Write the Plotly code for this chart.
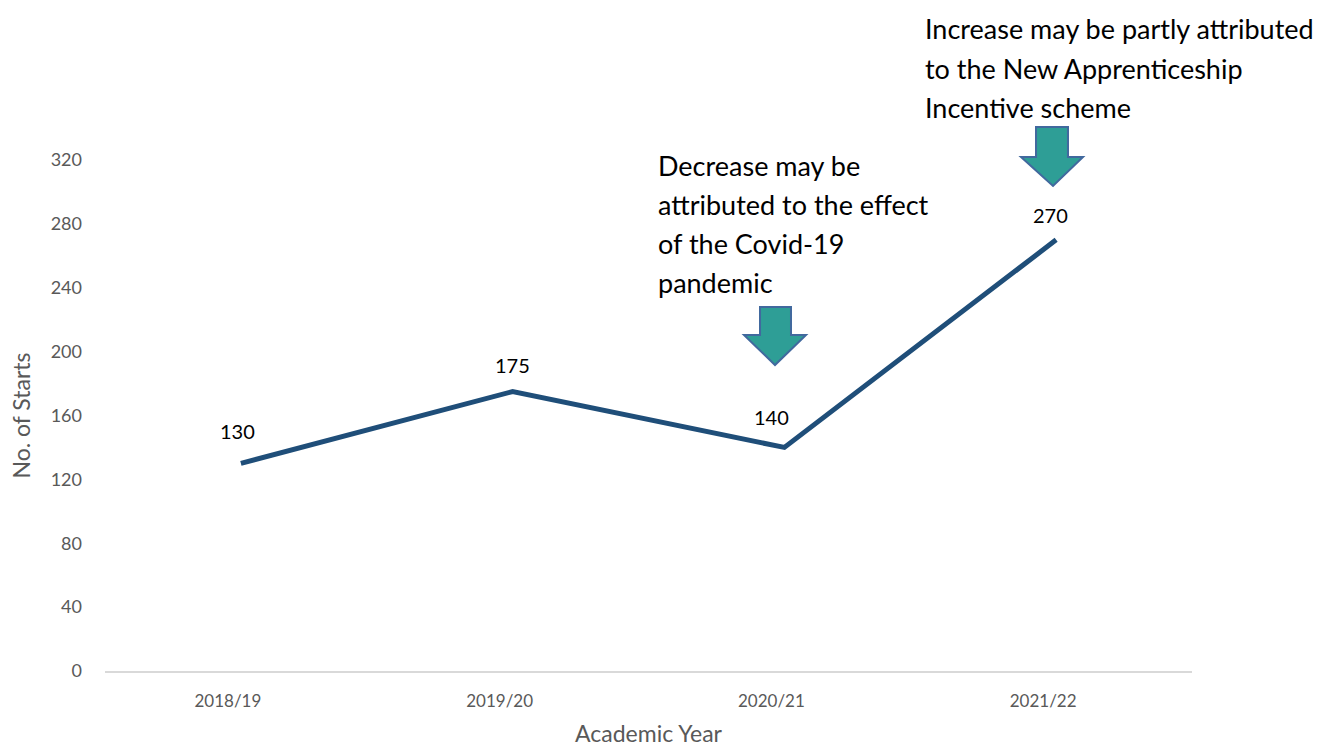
import plotly.graph_objects as go

years = ["2018/19", "2019/20", "2020/21", "2021/22"]
starts = [130, 175, 140, 270]
y_ticks = [0, 40, 80, 120, 160, 200, 240, 280, 320]

note_covid = ["Decrease may be", "attributed to the effect", "of the Covid-19", "pandemic"]
note_incentive = ["Increase may be partly attributed", "to the New Apprenticeship", "Incentive scheme"]

W, H = 1330, 747
L, R, T, B = 105, 1192, 160, 671
PW, PH = R - L, B - T

def px(x):
    return (x - L) / PW

def py(y):
    return (B - y) / PH

FONT = "Lato"

fig = go.Figure()
fig.add_trace(go.Scatter(
    x=years, y=starts, mode="lines",
    line=dict(color="#1F4E79", width=5),
    hoverinfo="x+y", showlegend=False,
))

label_shift = [(-3, 32), (0, 27), (-13, 30), (-6, 25)]
for (yr, v), (dx, dy) in zip(zip(years, starts), label_shift):
    fig.add_annotation(x=yr, y=v, text=str(v), showarrow=False,
                       xshift=dx, yshift=dy,
                       font=dict(family=FONT, size=20, color="#000000"))

def add_block(lines, left_px, first_center_px, spacing):
    for i, t in enumerate(lines):
        fig.add_annotation(xref="paper", yref="paper",
                           x=px(left_px), y=py(first_center_px + i * spacing),
                           xanchor="left", yanchor="middle", text=t,
                           showarrow=False,
                           font=dict(family=FONT, size=27, color="#000000"))

add_block(note_covid, 656, 165, 39.3)
add_block(note_incentive, 923, 29, 39.2)

def arrow(sl, sr, top, hy, hl, hr, tip, tx):
    pts = [(sl, top), (sr, top), (sr, hy), (hr, hy), (tx, tip), (hl, hy), (sl, hy)]
    path = "M " + " L ".join(f"{px(a):.5f},{py(b):.5f}" for a, b in pts) + " Z"
    fig.add_shape(type="path", xref="paper", yref="paper", path=path,
                  fillcolor="#2E9E96", line=dict(color="#41699E", width=2),
                  layer="above")

arrow(760, 791, 307, 335, 744, 806, 365, 775)
arrow(1036, 1068, 127, 157, 1021, 1083, 186, 1053)

fig.update_layout(
    width=W, height=H,
    margin=dict(l=L, r=W - R, t=T, b=H - B, pad=0, autoexpand=False),
    paper_bgcolor="white", plot_bgcolor="white",
    font=dict(family=FONT, color="#595959"),
    xaxis=dict(
        type="category", range=[-0.5, 3.5], showgrid=False, zeroline=False,
        showline=True, linecolor="#D9D9D9", linewidth=2,
        ticks="", tickfont=dict(size=17, color="#595959"),
        ticklabelstandoff=14, ticklabelshift=-13, automargin=False,
        title=dict(text="Academic Year", font=dict(size=23, color="#595959"), standoff=17),
    ),
    yaxis=dict(
        range=[0, 320], tickvals=y_ticks, showgrid=False, zeroline=False,
        showline=False, ticks="", tickfont=dict(size=18, color="#595959"),
        ticklabelstandoff=22, automargin=False,
        title=dict(text="No. of Starts", font=dict(size=23, color="#595959"), standoff=13),
    ),
)

fig.write_html("out.html")
